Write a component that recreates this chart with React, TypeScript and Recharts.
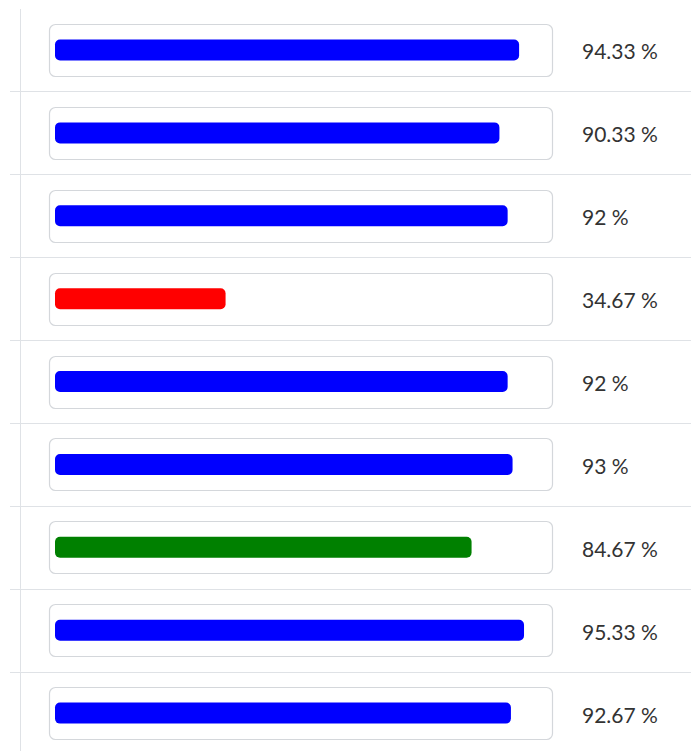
import { BarChart, Bar, XAxis, YAxis, Cell } from "recharts";

// one row per item, score in percent
const rowIds = ["r1", "r2", "r3", "r4", "r5", "r6", "r7", "r8", "r9"];
const scores = [94.33, 90.33, 92, 34.67, 92, 93, 84.67, 95.33, 92.67];
const barColors = ["#0000ff", "#0000ff", "#0000ff", "#ff0000", "#0000ff", "#0000ff", "#008000", "#0000ff", "#0000ff"];

const data = rowIds.map((id, i) => ({ id, score: scores[i] }));

const W = 691;
const H = 760;
const TOP = 8.5;
const BOTTOM = 5.5;
const rowH = (H - TOP - BOTTOM) / rowIds.length;

function RowBox(props: any) {
  const { x, y, width, height } = props;
  const cy = y + height / 2;
  const sep = Math.round(cy + rowH / 2) + 0.5;
  const top = Math.max(9, cy - rowH / 2);
  return (
    <g>
      <line x1={10} x2={W} y1={sep} y2={sep} stroke="#dfe2e6" strokeWidth={1} />
      <line x1={20.5} x2={20.5} y1={top} y2={cy + rowH / 2} stroke="#dfe2e6" strokeWidth={1} />
      <rect
        x={x - 5.5}
        y={Math.round(cy - 26) + 0.5}
        width={width + 11}
        height={52}
        rx={6}
        fill="#fff"
        stroke="#d4d7db"
        strokeWidth={1.2}
      />
    </g>
  );
}

export default function App() {
  return (
    <div style={{ position: "absolute", left: 0, top: 0, width: W, height: 751, overflow: "hidden", background: "#fff" }}>
      <BarChart
        width={W}
        height={H}
        data={data}
        layout="vertical"
        margin={{ top: TOP, right: 0, bottom: BOTTOM, left: 55 }}
        barCategoryGap={0}
      >
        <XAxis type="number" domain={[0, 100]} hide />
        <YAxis
          type="category"
          dataKey="id"
          orientation="right"
          width={144}
          axisLine={false}
          tickLine={false}
          tickSize={0}
          tickMargin={35}
          tickFormatter={(_v: string, i: number) => `${scores[i]} %`}
          tick={{ fontFamily: "Lato", fontSize: 21, fill: "#333", dy: 2 }}
          interval={0}
        />
        <Bar
          dataKey="score"
          barSize={21}
          radius={5}
          background={<RowBox />}
          isAnimationActive={false}
        >
          {data.map((d, i) => (
            <Cell key={d.id} fill={barColors[i]} />
          ))}
        </Bar>
      </BarChart>
    </div>
  );
}
